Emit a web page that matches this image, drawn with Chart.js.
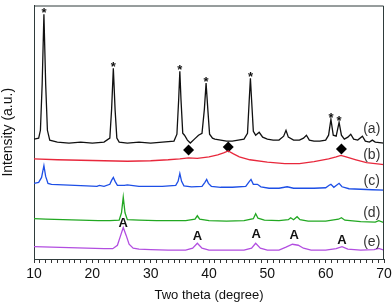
<!DOCTYPE html>
<html>
<head>
<meta charset="utf-8">
<script src="https://cdn.jsdelivr.net/npm/chart.js@4/dist/chart.umd.min.js"></script>
<style>
  html, body { margin: 0; padding: 0; background: #fff; }
  #wrap { width: 392px; height: 304px; }
</style>
</head>
<body>
<div id="wrap"><canvas id="xrdChart"></canvas></div>
<script>
// XRD patterns (intensity in arbitrary units)
const thetaA = [10, 10.8, 11.1, 11.4, 11.7, 12.0, 12.3, 12.7, 14, 16, 18, 20, 22, 23.0, 23.3, 23.6, 23.9, 24.2, 24.6, 26, 28, 30, 32, 34.0, 34.5, 34.8, 35.0, 35.2, 35.5, 35.8, 36.3, 36.8, 37.5, 38.2, 38.8, 39.2, 39.5, 39.8, 40.1, 40.6, 41, 42, 43, 44, 45, 46, 46.6, 46.9, 47.1, 47.3, 47.6, 48.0, 48.6, 49.2, 50, 51, 52, 52.8, 53.2, 53.6, 54.5, 55.5, 56.2, 56.7, 57.2, 58, 59, 60, 60.5, 60.9, 61.3, 61.8, 62.3, 62.7, 63.2, 63.8, 64.3, 64.8, 65.5, 66.3, 66.8, 67.5, 68.0, 68.5, 70];
const intA = [122, 123, 131, 178, 249, 178, 131, 121, 119, 118, 119, 118, 119, 123, 152, 194, 152, 123, 119, 118, 119, 118, 119, 120, 127, 162, 191, 162, 128, 126, 121, 118, 122, 126, 128, 152, 179, 152, 127, 123, 122, 121, 120, 120, 121, 122, 128, 162, 184, 162, 130, 126, 129, 124, 122, 121, 121, 125, 131, 124, 121, 121, 123, 126, 121, 120, 120, 121, 126, 142, 126, 125, 139, 126, 122, 124, 127, 122, 121, 125, 120, 119, 121, 119, 118];

const thetaB = [10, 14, 18, 22, 26, 30, 33, 35, 36.5, 38, 40, 41.5, 42.5, 43.3, 44.2, 45.2, 47, 50, 53, 55.5, 58, 60.5, 61.8, 62.6, 63.5, 65.2, 67, 70];
const intB = [102, 101, 100.5, 100, 99.5, 100, 101, 102, 103, 102.5, 104, 106, 108, 110, 107, 104, 101, 98.5, 97, 97, 99, 102, 104, 105.5, 104, 101, 98, 96];

const thetaC = [10, 10.8, 11.3, 11.7, 12.0, 12.4, 13, 15, 17, 19, 20.8, 21.2, 22, 23.0, 23.3, 23.6, 23.9, 24.3, 25.5, 26, 28, 30, 32, 34.3, 34.7, 35.0, 35.3, 35.7, 37, 38.8, 39.3, 39.6, 39.9, 40.4, 42, 44, 46.3, 46.8, 47.2, 47.6, 48.3, 48.9, 50.3, 52, 53.4, 54.5, 56, 58, 60, 60.6, 60.9, 61.4, 62.3, 62.8, 64, 66, 68, 70];
const intC = [77, 78, 83, 95, 84, 77, 76, 75.5, 75, 74.5, 74, 75, 74, 76, 80, 83, 79, 75, 75, 75.5, 74, 74, 74, 75, 79, 87, 79, 74.5, 73.5, 74, 78, 81, 77, 74, 73, 73, 74, 78, 81, 76, 76, 73.5, 72, 72, 73.5, 72, 72, 72, 72.5, 75, 76, 73, 77, 73.5, 71.5, 71, 70.5, 70];

const thetaD = [10, 12, 15, 18, 21, 23, 24.6, 25.0, 25.3, 25.6, 26.0, 28, 31, 34, 36, 37.6, 38.0, 38.4, 40, 43, 46, 47.6, 48.0, 48.4, 49.5, 52, 53.6, 54.0, 54.5, 55.1, 55.6, 57, 60, 62.2, 62.7, 63.3, 66, 68.5, 69.1, 70];
const intD = [41, 40.5, 40, 39.5, 39, 39, 39.5, 47, 63, 47, 40, 39.5, 39, 39, 39, 40.5, 44, 40.5, 39, 38.5, 39, 41, 46, 41.5, 39.5, 39, 40, 42, 40, 43, 40, 38.5, 38.5, 40.5, 42, 39.5, 38, 37.5, 39, 37];

const thetaE = [10, 13, 16, 19, 22, 23.5, 24.3, 24.8, 25.3, 25.8, 26.3, 27.0, 28, 30, 33, 36, 37.2, 38.0, 38.8, 40, 43, 46, 47.3, 48.0, 48.8, 50, 52, 53.2, 54.3, 55.3, 56.2, 57.5, 60, 61.8, 62.8, 63.8, 66, 68.3, 69.1, 70];
const intE = [12.5, 12, 11.5, 11, 10.5, 10.5, 14, 23, 32, 24, 15, 11, 10, 9.5, 9, 9, 11, 16, 11, 9, 9, 9, 11, 16, 11, 9, 9, 12, 15, 14, 11, 9, 9, 10.5, 12.5, 10, 9, 9.5, 10.7, 9];

// peak markers
const starTheta = [11.7, 23.6, 35.0, 39.5, 47.1, 60.9, 62.3];
const diamondTheta = [36.5, 43.3, 62.7];
const diamondInt = [111, 114, 112];
const anataseTheta = [25.3, 38.0, 48.1, 54.6, 62.8];
const anataseInt = [36, 23, 25, 24, 19];

const sampleLabels = ['(a)', '(b)', '(c)', '(d)', '(e)'];
const sampleLabelInt = [132, 106, 79, 47, 17];
const sampleLabelTheta = 67.9;

const xTicks = [10, 20, 30, 40, 50, 60, 70];

const FONT = "'Liberation Sans', Arial, sans-serif";

function pairs(xs, ys) {
    return xs.map((x, i) => ({ x: x, y: ys[i] }));
}

function line(xs, ys, color) {
    return {
        type: 'line',
        data: pairs(xs, ys),
        borderColor: color,
        borderWidth: 1.3,
        pointRadius: 0,
        tension: 0,
        fill: false
    };
}

// labels, stars, A's and the frame
const markerPlugin = {
    id: 'markers',
    afterDatasetsDraw(chart) {
        const ctx = chart.ctx;
        const xs = chart.scales.x, ys = chart.scales.y;
        const area = chart.chartArea;
        ctx.save();

        // top and right frame
        ctx.strokeStyle = '#2f3b3b';
        ctx.lineWidth = 1;
        ctx.beginPath();
        ctx.moveTo(area.left, area.top + 0.5);
        ctx.lineTo(area.right - 0.5, area.top + 0.5);
        ctx.lineTo(area.right - 0.5, area.bottom);
        ctx.stroke();

        ctx.fillStyle = '#111';
        ctx.textAlign = 'center';

        // stars above the peaks of (a)
        ctx.font = 'bold 13px ' + FONT;
        const m = ctx.measureText('*');
        const starMid = (m.actualBoundingBoxAscent - m.actualBoundingBoxDescent) / 2;
        ctx.textBaseline = 'alphabetic';
        starTheta.forEach(t => {
            let best = 0;
            thetaA.forEach((v, i) => { if (Math.abs(v - t) < Math.abs(thetaA[best] - t)) best = i; });
            const px = xs.getPixelForValue(t);
            const py = ys.getPixelForValue(intA[best]) - 4;
            ctx.fillText('*', px, py + starMid);
        });

        // anatase "A"
        ctx.font = 'bold 13px ' + FONT;
        ctx.textBaseline = 'middle';
        anataseTheta.forEach((t, i) => {
            ctx.fillText('A', xs.getPixelForValue(t), ys.getPixelForValue(anataseInt[i]));
        });

        // sample labels
        ctx.font = '14px ' + FONT;
        ctx.fillStyle = '#333';
        sampleLabels.forEach((s, i) => {
            ctx.fillText(s, xs.getPixelForValue(sampleLabelTheta), ys.getPixelForValue(sampleLabelInt[i]));
        });

        ctx.restore();
    }
};

document.addEventListener("DOMContentLoaded", function () {

    const ctx = document.getElementById('xrdChart').getContext('2d');

    const xrdChart = new Chart(ctx, {
        data: {
            datasets: [
                line(thetaA, intA, '#111111'),
                line(thetaB, intB, '#e8283c'),
                line(thetaC, intC, '#1d4fe6'),
                line(thetaD, intD, '#22a822'),
                line(thetaE, intE, '#b24ee0'),
                {
                    type: 'scatter',
                    data: pairs(diamondTheta, diamondInt),
                    pointStyle: 'rectRot',
                    pointRadius: 5.5,
                    backgroundColor: '#000',
                    borderColor: '#000',
                    borderWidth: 0
                }
            ]
        },
        options: {
            responsive: true,
            maintainAspectRatio: false,
            animation: false,
            events: [],
            layout: { padding: { top: 1, right: 8, left: 0, bottom: 0 } },
            plugins: {
                legend: { display: false },
                tooltip: { enabled: false }
            },
            scales: {
                x: {
                    type: 'linear',
                    min: 10,
                    max: 70,
                    afterFit(s) { s.height = 45; s.paddingLeft = 0; s.paddingRight = 0; },
                    ticks: {
                        stepSize: 1,
                        autoSkip: false,
                        maxRotation: 0,
                        padding: 3,
                        color: '#111',
                        font: { family: FONT, size: 14 },
                        callback: v => xTicks.includes(v) ? String(v) : ''
                    },
                    grid: {
                        drawOnChartArea: false,
                        drawTicks: true,
                        tickLength: 4,
                        color: '#333'
                    },
                    border: { display: true, color: '#2f3b3b', width: 1 },
                    title: {
                        display: true,
                        text: 'Two theta (degree)',
                        color: '#111',
                        font: { family: FONT, size: 13 },
                        padding: { top: 0, bottom: 1 }
                    }
                },
                y: {
                    type: 'linear',
                    min: 0,
                    max: 258,
                    afterFit(s) { s.width = 34; },
                    ticks: { display: false },
                    grid: { display: false, drawTicks: false },
                    border: { display: true, color: '#2f3b3b', width: 1 },
                    title: {
                        display: true,
                        text: 'Intensity (a.u.)',
                        color: '#111',
                        font: { family: FONT, size: 14 },
                        padding: { top: 0, bottom: 0 }
                    }
                }
            }
        },
        plugins: [markerPlugin]
    });
});
</script>
</body>
</html>
